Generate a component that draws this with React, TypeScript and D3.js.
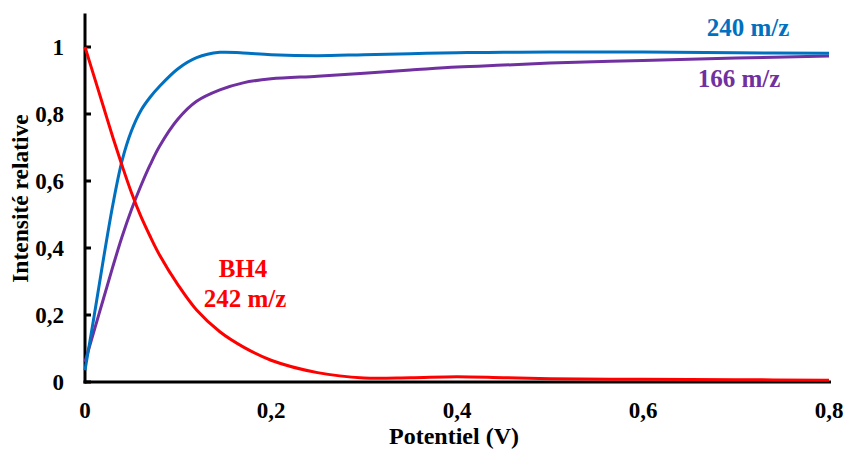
import React from "react";
import * as d3 from "d3";

const potentials = [0, 0.01, 0.02, 0.03, 0.04, 0.05, 0.06, 0.07, 0.08, 0.1, 0.12, 0.145, 0.17, 0.2, 0.25, 0.3, 0.35, 0.4, 0.45, 0.5, 0.6, 0.7, 0.8];
const bh4_242 = [1, 0.91, 0.82, 0.73, 0.645, 0.565, 0.495, 0.435, 0.38, 0.29, 0.215, 0.15, 0.105, 0.065, 0.028, 0.012, 0.013, 0.016, 0.013, 0.01, 0.008, 0.007, 0.005];
const mz240 = [0.035, 0.2, 0.37, 0.53, 0.662, 0.75, 0.81, 0.85, 0.882, 0.935, 0.968, 0.984, 0.982, 0.977, 0.974, 0.977, 0.98, 0.983, 0.984, 0.985, 0.985, 0.983, 0.981];
const mz166 = [0.06, 0.155, 0.25, 0.345, 0.435, 0.515, 0.585, 0.648, 0.703, 0.785, 0.838, 0.872, 0.893, 0.905, 0.913, 0.922, 0.931, 0.94, 0.946, 0.952, 0.96, 0.967, 0.973];

const xTicks = [0, 0.2, 0.4, 0.6, 0.8];
const yTicks = [0, 0.2, 0.4, 0.6, 0.8, 1];
const fmt = (v: number) => (v === 0 || v === 1 ? String(v) : v.toFixed(1).replace(".", ","));

const W = 849;
const H = 452;
const FONT = "'Liberation Serif', 'Times New Roman', serif";

export default function App() {
  const x = d3.scaleLinear().domain([0, 0.8]).range([85, 829]);
  const y = d3.scaleLinear().domain([0, 1]).range([382, 47]);
  const line = d3
    .line<number>()
    .x((_, i) => x(potentials[i]))
    .y((d) => y(d))
    .curve(d3.curveCatmullRom.alpha(0.5));

  const series = [
    { values: mz166, color: "#7030A0" },
    { values: mz240, color: "#0070C0" },
    { values: bh4_242, color: "#FF0000" },
  ];

  return (
    <svg width={W} height={H} style={{ position: "absolute", left: 0, top: 0, background: "#fff" }} fontFamily={FONT}>
      {/* axes */}
      <line x1={85} x2={85} y1={y(1.1)} y2={383.5} stroke="#000" strokeWidth={3} />
      <line x1={83.5} x2={x(0.8) + 2} y1={382} y2={382} stroke="#000" strokeWidth={3} />
      {yTicks.map((t) => (
        <line key={"yt" + t} x1={85} x2={91} y1={y(t)} y2={y(t)} stroke="#000" strokeWidth={3} />
      ))}
      {yTicks.map((t) => (
        <text key={"yl" + t} x={64} y={y(t) + 8} textAnchor="end" fontSize={23} fontWeight="bold" fill="#000">
          {fmt(t)}
        </text>
      ))}
      {xTicks.map((t) => (
        <text key={"xl" + t} x={x(t)} y={418} textAnchor="middle" fontSize={23} fontWeight="bold" fill="#000">
          {fmt(t)}
        </text>
      ))}
      <text x={454} y={444} textAnchor="middle" fontSize={24} fontWeight="bold" fill="#000">
        Potentiel (V)
      </text>
      <text
        transform={`translate(28,${(115 + 282) / 2}) rotate(-90)`}
        textAnchor="middle"
        fontSize={23.5}
        fontWeight="bold"
        fill="#000"
      >
        Intensité relative
      </text>

      {/* curves */}
      {series.map((s, i) => (
        <path key={i} d={line(s.values) || ""} fill="none" stroke={s.color} strokeWidth={3} />
      ))}

      {/* labels */}
      <text x={748} y={36} textAnchor="middle" fontSize={25} fontWeight="bold" fill="#0070C0">240 m/z</text>
      <text x={739} y={87} textAnchor="middle" fontSize={25} fontWeight="bold" fill="#7030A0">166 m/z</text>
      <text x={243} y={277} textAnchor="middle" fontSize={25} fontWeight="bold" fill="#FF0000">BH4</text>
      <text x={245} y={307} textAnchor="middle" fontSize={25} fontWeight="bold" fill="#FF0000">242 m/z</text>
    </svg>
  );
}
